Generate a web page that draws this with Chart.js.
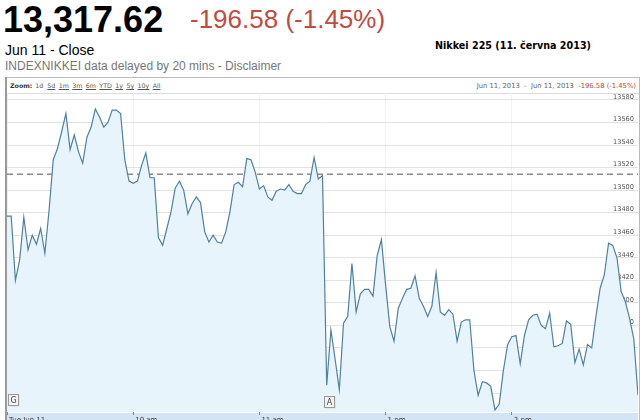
<!DOCTYPE html>
<html>
<head>
<meta charset="utf-8">
<script src="https://cdn.jsdelivr.net/npm/chart.js@4"></script>
<style>
  body { margin: 0; width: 640px; height: 420px; overflow: hidden; background: #fff; position: relative;
         font-family: "Liberation Sans", Arial, sans-serif; }
  .abs { position: absolute; white-space: nowrap; line-height: 1; }
  #price { left: 3px; top: 1.5px; font-size: 36px; font-weight: bold; color: #000; }
  #change { left: 190px; top: 6px; font-size: 26px; color: #c24a40; }
  #close { left: 5px; top: 43px; font-size: 14px; color: #000; }
  #delay { left: 5px; top: 60px; font-size: 12px; color: #777; }
  #title { left: 435px; top: 40px; font: bold 9.6px "DejaVu Sans", Verdana, sans-serif; color: #000; }
  #box { position: absolute; left: 5px; top: 77px; width: 632px; height: 360px;
         border-top: 1px solid #bbb; border-left: 2px solid #9a9a9a; border-right: 1px solid #bbb; }
  #bar { position: absolute; left: 0; top: 0; width: 632px; height: 15px; border-bottom: 1px solid #ddd;
         font: 6.3px "DejaVu Sans", Verdana, sans-serif; color: #555; }
  #zoom { position: absolute; left: 3px; top: 4px; }
  #zoom b { color: #333; margin-right: 3px; }
  #zoom u { margin-right: 3.4px; }
  #range { position: absolute; right: 3px; top: 4px; color: #666; font-size: 6.8px; }
  #range span { color: #b04a44; }
  canvas { position: absolute; left: 0; top: 0; }
</style>
</head>
<body>
<div class="abs" id="price">13,317.62</div>
<div class="abs" id="change">-196.58 (-1.45%)</div>
<div class="abs" id="close">Jun 11 - Close</div>
<div class="abs" id="delay">INDEXNIKKEI data delayed by 20 mins - Disclaimer</div>
<div class="abs" id="title">Nikkei 225 (11. června 2013)</div>
<div id="box">
  <div id="bar">
    <div id="zoom"><b>Zoom:</b>1d&nbsp; <u>5d</u><u>1m</u><u>3m</u><u>6m</u><u>YTD</u><u>1y</u><u>5y</u><u>10y</u><u>All</u></div>
    <div id="range">Jun 11, 2013 &nbsp;-&nbsp; Jun 11, 2013 &nbsp;<span>-196.58 (-1.45%)</span></div>
  </div>
</div>
<canvas id="myChart" width="640" height="430"></canvas>
<script>
// prices every 2 minutes, morning session 9:00 - 11:30
var morningPrices = [
  13477, 13477, 13420, 13438, 13476, 13447, 13460, 13452, 13466, 13444,
  13482, 13527, 13537, 13552, 13568, 13536, 13549, 13534, 13524, 13547,
  13556, 13572, 13565, 13556, 13560, 13571, 13571, 13568, 13527, 13508,
  13506, 13508, 13522, 13533, 13511, 13511, 13458, 13451, 13466, 13481,
  13502, 13508, 13500, 13479, 13488, 13494, 13489, 13463, 13454, 13460,
  13454, 13453, 13463, 13481, 13505, 13507, 13503, 13528, 13527, 13516,
  13501, 13504, 13494, 13491, 13499, 13501, 13500, 13505, 13499, 13497,
  13497, 13505, 13508, 13529, 13510, 13513
];
// afternoon session 12:32 - 15:00
var afternoonPrices = [
  13327, 13376, 13350, 13323, 13382, 13388, 13435, 13392, 13408, 13412,
  13412, 13406, 13442, 13456, 13416, 13379, 13366, 13395, 13404, 13412,
  13413, 13424, 13404, 13397, 13388, 13397, 13427, 13392, 13389, 13394,
  13390, 13366, 13383, 13385, 13385, 13340, 13318, 13330, 13329, 13326,
  13305, 13310, 13340, 13363, 13370, 13371, 13346, 13371, 13385, 13389,
  13390, 13380, 13377, 13391, 13361, 13362, 13364, 13384, 13381, 13347,
  13359, 13345, 13363, 13360, 13388, 13413, 13425, 13453, 13451, 13440,
  13410, 13401, 13386, 13368, 13318
];
// trading minutes since open (lunch break removed)
var sessionStarts = [0, 152];
var stepMinutes = 2;
var dayMinutes = [0, 300];

var prevClose = [13514.20];

var xTickMinutes = [0, 60, 120, 180, 240];
var xTickLabels = ["Tue Jun 11", "10 am", "11 am", "1 pm", "2 pm"];
var yTicks = [13320, 13340, 13360, 13380, 13400, 13420, 13440, 13460, 13480, 13500, 13520, 13540, 13560, 13580];

var markerMinutes = [0, 150];
var markerLabels = ["G", "A"];

var points = [];
morningPrices.forEach(function (p, i) { points.push({ x: sessionStarts[0] + i * stepMinutes, y: p }); });
afternoonPrices.forEach(function (p, i) { points.push({ x: sessionStarts[1] + i * stepMinutes, y: p }); });

var closeLine = dayMinutes.map(function (m) { return { x: m, y: prevClose[0] }; });

// light blue band under the plot + news flags
var extras = {
  id: "extras",
  beforeDraw: function (chart) {
    var c = chart.ctx, a = chart.chartArea;
    c.save();
    c.fillStyle = "#d3e5f4";
    c.fillRect(a.left, a.bottom + 1, a.right - a.left, 20);
    c.restore();
  },
  afterDraw: function (chart) {
    var c = chart.ctx, a = chart.chartArea, xs = chart.scales.x;
    c.save();
    markerMinutes.forEach(function (m, i) {
      var x = Math.round(xs.getPixelForValue(m)) + 1.5;
      var y = a.bottom - 17.5 + i * 2;
      c.fillStyle = "rgba(0,0,0,0.12)";
      c.fillRect(x + 1, y + 1, 10, 11);
      c.fillStyle = "#f4f4f4";
      c.fillRect(x, y, 10, 11);
      c.strokeStyle = "#999";
      c.lineWidth = 1;
      c.strokeRect(x, y, 10, 11);
      c.fillStyle = "#444";
      c.font = "8px 'DejaVu Sans'";
      c.textAlign = "center";
      c.textBaseline = "middle";
      c.fillText(markerLabels[i], x + 5, y + 6);
    });
    c.restore();
  }
};

var ctx = document.getElementById("myChart").getContext("2d");
var chart = new Chart(ctx, {
  type: "line",
  data: {
    datasets: [
      {
        label: "Nikkei 225",
        data: points,
        borderColor: "#50819f",
        borderWidth: 1.2,
        backgroundColor: "#e8f4fc",
        fill: "start",
        pointRadius: 0,
        tension: 0
      },
      {
        label: "Previous close",
        data: closeLine,
        borderColor: "#555",
        borderWidth: 1,
        borderDash: [6, 4],
        fill: false,
        pointRadius: 0
      }
    ]
  },
  options: {
    animation: false,
    responsive: false,
    layout: { padding: { top: 93, left: 7, right: 2, bottom: 0 } },
    plugins: { legend: { display: false }, tooltip: { enabled: false }, title: { display: false } },
    scales: {
      x: {
        type: "linear",
        min: dayMinutes[0],
        max: dayMinutes[1],
        afterBuildTicks: function (s) { s.ticks = xTickMinutes.map(function (v) { return { value: v }; }); },
        afterFit: function (s) { s.height = 18; },
        grid: { color: "#f1f1f1", tickLength: 3, tickColor: "#888" },
        border: { display: false },
        ticks: {
          align: "start",
          labelOffset: 2,
          padding: 1,
          maxRotation: 0,
          autoSkip: false,
          color: "#333",
          font: { family: "DejaVu Sans", size: 7 },
          callback: function (v) { return xTickLabels[xTickMinutes.indexOf(v)]; }
        }
      },
      y: {
        position: "right",
        min: 13303.2,
        max: 13586.2,
        afterBuildTicks: function (s) { s.ticks = yTicks.map(function (v) { return { value: v }; }); },
        afterFit: function (s) { s.width = 0; },
        grid: { color: "#e2e2e2", drawTicks: false },
        border: { display: false },
        ticks: {
          mirror: true,
          padding: -4,
          labelOffset: -3,
          color: "#555",
          font: { family: "DejaVu Sans", size: 6.6 },
          callback: function (v) { return String(v); }
        }
      }
    }
  },
  plugins: [extras]
});
</script>
</body>
</html>
